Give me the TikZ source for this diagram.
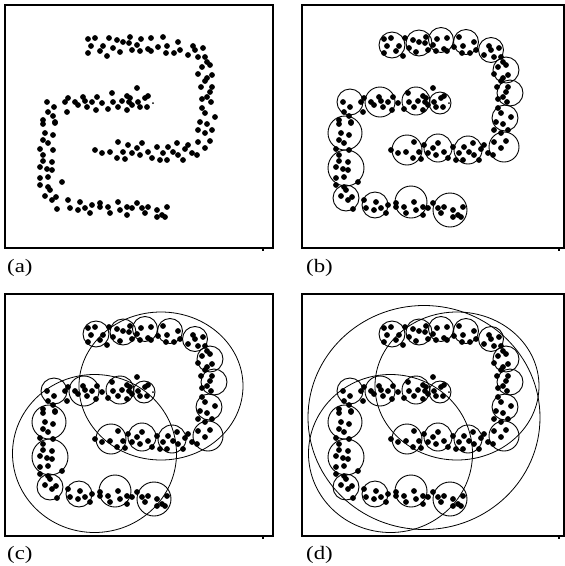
\documentclass[tikz,border=0pt]{standalone}
\usepackage{fontspec}
\setmainfont{Liberation Serif}

% data points of the spiral, in panel coordinates (pixels, y downwards)
\newcommand\spiraldots{%
  \foreach \x/\y in {
    88/39,95/38,109/38,91/46,88/53,100/51,103/46,113/48,107/56,120/52,123/42,
    130/37,129/43,141/39,151/38,163/37,132/50,137/45,140/51,148/49,151/51,
    158/47,167/46,166/53,174/53,178/42,180/50,188/55,193/46,195/50,203/48,
    198/57,205/57,117/40,
    207/62,202/67,210/65,212/75,198/74,207/78,205/81,201/87,212/87,210/92,
    207/97,202/99,211/102,202/108,205/113,215/117,200/122,207/124,198/130,
    205/133,212/130,198/142,210/141,205/148,197/155,
    47/102,54/107,48/112,53/116,43/120,55/122,65/102,68/98,67/112,75/102,
    78/105,83/97,85/101,87/107,92/102,97/97,96/110,102/103,108/109,112/93,
    113/102,118/107,122/101,127/96,127/110,129/102,130/98,137/88,132/105,
    138/102,140/107,145/98,148/96,147/107,
    43/124,55/123,45/133,53/135,43/140,48/143,40/149,53/150,43/155,43/161,
    52/162,40/167,47/169,52/170,40/178,48/177,62/182,40/185,48/187,50/190,
    45/196,52/200,56/197,57/209,
    68/200,70/208,80/202,78/210,85/208,92/205,90/213,100/203,100/207,
    108/207,110/213,118/202,120/210,127/207,127/215,132/208,137/203,
    142/208,148/207,145/213,157/210,167/207,157/217,165/217,162/215,
    95/150,102/153,110/152,118/142,117/158,123/152,128/145,125/159,
    137/148,142/143,140/155,132/153,148/152,152/158,157/147,160/160,
    163/153,168/147,167/160,173/152,177/143,178/155,185/149,188/145,
    183/160,192/153}
    {\fill[dot] (\x,\y) circle (2.9);}
  \fill[dot] (153,103) circle (1);
}

% small subclusters covering the data
\newcommand\subclusters{%
  \foreach \x/\y/\r in {
    96/45/13,123/43/13,145/40/12.5,170/42/12.5,195/50/12.5,210/70/13,
    214/93/13,209/118/13,208/147/15,111/150/15,142/148/14,172/150/14,
    54/102/13,84/102/15,120/101/14,144/103/11,49/133/17,50/168/18,
    50/198/13,79/205/13,115/202/16,154/210/17}
    {\draw[subclu] (\x,\y) circle (\r);}
}

% the two merged clusters
\newcommand\mergedpair{%
  \draw[bigclu] (161,97) ellipse [x radius=82, y radius=74];
  \draw[bigclu] (94.5,164.5) ellipse [x radius=82, y radius=79];
}

\begin{document}
\begin{tikzpicture}[x=1pt,y=-1pt,
  frame/.style={line width=1.5pt},
  dot/.style={fill=black},
  subclu/.style={line width=0.9pt},
  bigclu/.style={line width=0.8pt},
  lbl/.style={font=\fontsize{19}{19}\selectfont, anchor=base west, inner sep=0pt}]
\useasboundingbox (0,0) rectangle (565,566);

% frames and corner ticks
\draw[frame] (5,5) rectangle (273,248);
\draw[frame] (302,5) rectangle (564,248);
\draw[frame] (5,294) rectangle (273,536);
\draw[frame] (302,294) rectangle (564,536);
\foreach \tx/\ty in {263/248,559/248,263/536,559/536}
  \fill (\tx-1,\ty) rectangle (\tx+1.2,\ty+3);

% (a) raw data
\spiraldots

% (b) subclusters
\begin{scope}[shift={(296,0)}]
  \spiraldots
  \subclusters
\end{scope}

% (c) two merged clusters
\begin{scope}[shift={(0,289)}]
  \spiraldots
  \subclusters
  \mergedpair
\end{scope}

% (d) one cluster over everything
\begin{scope}[shift={(296,289)}]
  \spiraldots
  \subclusters
  \mergedpair
  \draw[bigclu] (128,128.5) ellipse [x radius=116, y radius=112];
\end{scope}

% panel labels
\node[lbl] (la) at (7,272) {\scalebox{1.2}[1]{(a)}};
\node[lbl] (lb) at (306,272) {\scalebox{1.2}[1]{(b)}};
\node[lbl] (lc) at (7,559) {\scalebox{1.2}[1]{(c)}};
\node[lbl] (ld) at (306,559) {\scalebox{1.2}[1]{(d)}};
\end{tikzpicture}
\end{document}
